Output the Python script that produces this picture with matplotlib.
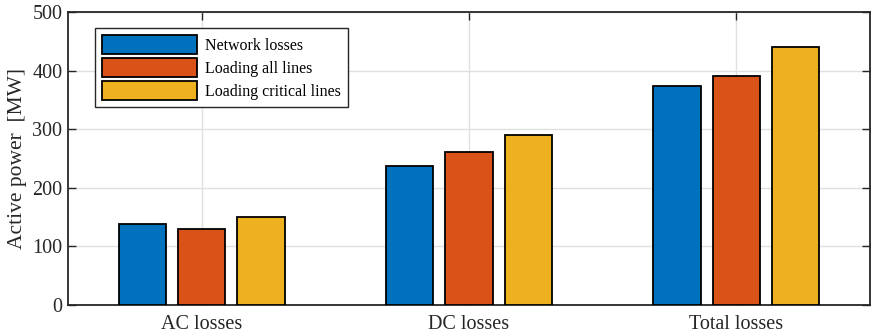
import numpy as np
import matplotlib.pyplot as plt
from matplotlib.ticker import MultipleLocator

categories = ['AC losses', 'DC losses', 'Total losses']
series = ['Network losses', 'Loading all lines', 'Loading critical lines']
network_losses = [138.5, 237, 374]
loading_all = [129.5, 261.5, 390]
loading_critical = [151, 289.5, 440]
vals = [network_losses, loading_all, loading_critical]
colors = ['#0072BD', '#D95319', '#EDB120']

plt.rcParams['font.family'] = ['Liberation Serif', 'DejaVu Serif']

fig = plt.figure(figsize=(8.71, 3.36), dpi=100)
ax = fig.add_axes([68 / 871, 31 / 336, 802 / 871, 293 / 336])

x = np.arange(1, len(categories) + 1)
w = 0.178
offs = [-0.222, 0.0, 0.222]
for i, s in enumerate(series):
    ax.bar(x + offs[i], vals[i], width=w, color=colors[i],
           edgecolor='black', linewidth=1.3, label=s, zorder=3)

ax.set_xlim(0.5, 3.5)
ax.set_ylim(0, 500)
ax.set_xticks(x)
ax.set_xticklabels(categories)
ax.yaxis.set_major_locator(MultipleLocator(100))
ax.grid(True, color='#e0e0e0', linewidth=1.0, zorder=0)
ax.set_axisbelow(True)
ax.tick_params(direction='in', top=True, right=True, length=6, width=1,
               labelsize=14.5, colors='#262626', pad=4)
ax.tick_params(axis='x', pad=7)
for sp in ax.spines.values():
    sp.set_color('#262626')
    sp.set_linewidth(1.3)
ax.set_ylabel('Active power  [MW]', fontsize=15.5, color='#262626', labelpad=4)

leg = ax.legend(loc='upper left', bbox_to_anchor=(0.034, 0.945), borderaxespad=0,
                fontsize=11.5, handlelength=5.9, handleheight=1.45,
                handletextpad=0.5, labelspacing=0.25, borderpad=0.45,
                fancybox=False, framealpha=1, edgecolor='#262626')
leg.get_frame().set_linewidth(1.0)

fig.savefig('out.png', dpi=100)
